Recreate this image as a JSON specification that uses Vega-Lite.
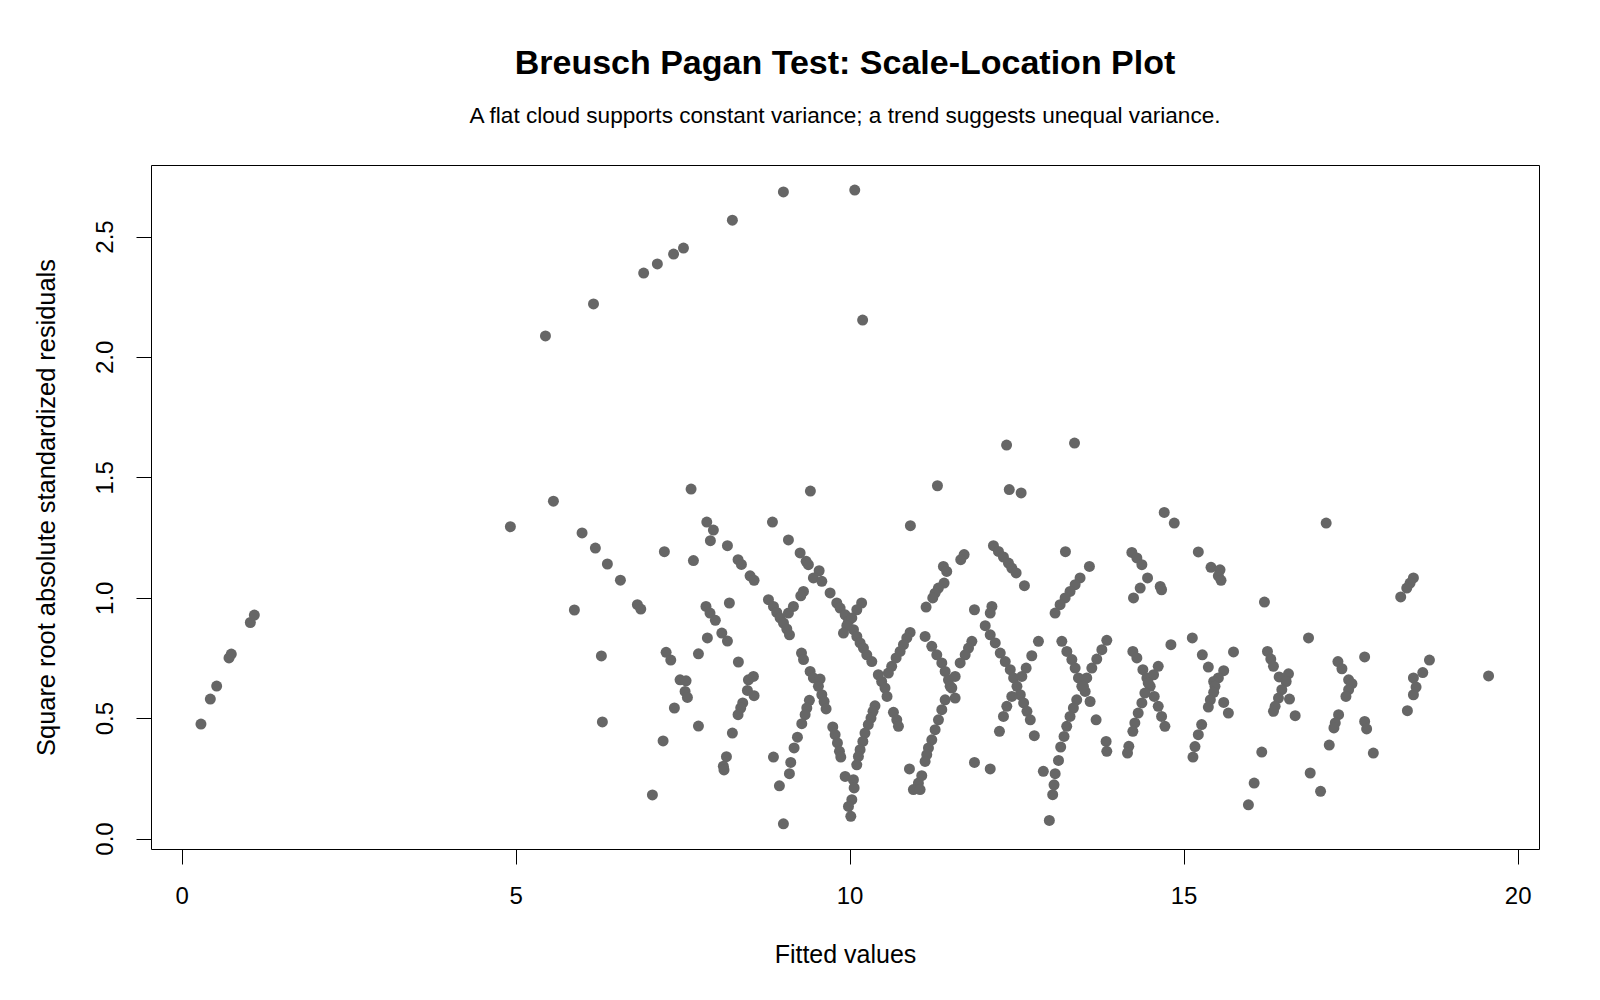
{
"$schema":"https://vega.github.io/schema/vega-lite/v6.json",
"width":1388,"height":684,
"autosize":{"type":"none"},
"padding":{"left":151,"top":165,"right":61,"bottom":151},
"background":"white",
"config":{"view":{"stroke":"black","strokeWidth":1},"font":"Liberation Sans"},
"title":{"text":"Breusch Pagan Test: Scale-Location Plot","subtitle":"A flat cloud supports constant variance; a trend suggests unequal variance.","fontSize":34,"fontWeight":"bold","subtitleFontSize":22.6,"subtitlePadding":24,"anchor":"middle","offset":37,"color":"black","subtitleColor":"black","font":"Liberation Sans","subtitleFont":"Liberation Sans"},
"data":{"values":[
{"fitted":0.29,"resid":0.475},{"fitted":0.43,"resid":0.579},{"fitted":0.525,"resid":0.633},{"fitted":0.71,"resid":0.75},{"fitted":0.744,"resid":0.766},{"fitted":1.029,"resid":0.897},{"fitted":1.089,"resid":0.928},
{"fitted":5.447,"resid":2.087},{"fitted":6.166,"resid":2.22},{"fitted":6.917,"resid":2.348},{"fitted":7.122,"resid":2.386},{"fitted":7.365,"resid":2.427},{"fitted":7.513,"resid":2.452},{"fitted":8.245,"resid":2.568},{"fitted":9.009,"resid":2.685},{"fitted":10.077,"resid":2.693},{"fitted":10.195,"resid":2.153},{"fitted":12.35,"resid":1.634},{"fitted":13.367,"resid":1.642},
{"fitted":4.922,"resid":1.295},{"fitted":5.566,"resid":1.401},{"fitted":7.627,"resid":1.451},{"fitted":5.995,"resid":1.269},{"fitted":6.194,"resid":1.206},{"fitted":6.374,"resid":1.14},{"fitted":6.569,"resid":1.073},{"fitted":6.823,"resid":0.971},{"fitted":6.874,"resid":0.953},{"fitted":5.88,"resid":0.949},{"fitted":7.227,"resid":1.191},{"fitted":7.662,"resid":1.154},{"fitted":7.862,"resid":1.314},{"fitted":7.961,"resid":1.281},{"fitted":7.916,"resid":1.237},{"fitted":8.171,"resid":1.216},{"fitted":8.33,"resid":1.158},{"fitted":8.38,"resid":1.138},{"fitted":8.51,"resid":1.091},{"fitted":8.57,"resid":1.072},{"fitted":6.284,"resid":0.758},{"fitted":8.2,"resid":0.978},{"fitted":7.85,"resid":0.964},{"fitted":7.91,"resid":0.936},{"fitted":7.99,"resid":0.906},{"fitted":7.871,"resid":0.833},{"fitted":8.087,"resid":0.853},{"fitted":8.171,"resid":0.82},{"fitted":7.253,"resid":0.773},{"fitted":7.323,"resid":0.741},{"fitted":7.737,"resid":0.767},{"fitted":8.335,"resid":0.733},{"fitted":7.462,"resid":0.659},{"fitted":7.552,"resid":0.655},{"fitted":7.537,"resid":0.611},{"fitted":7.572,"resid":0.586},{"fitted":7.377,"resid":0.542},{"fitted":8.485,"resid":0.659},{"fitted":8.56,"resid":0.673},{"fitted":8.47,"resid":0.615},{"fitted":8.57,"resid":0.593},{"fitted":8.4,"resid":0.563},{"fitted":8.37,"resid":0.542},{"fitted":8.33,"resid":0.514},{"fitted":8.245,"resid":0.438},{"fitted":7.737,"resid":0.467},{"fitted":6.299,"resid":0.484},{"fitted":7.208,"resid":0.405},{"fitted":8.156,"resid":0.34},{"fitted":8.11,"resid":0.3},{"fitted":8.12,"resid":0.285},{"fitted":7.048,"resid":0.181},
{"fitted":9.413,"resid":1.443},{"fitted":11.315,"resid":1.465},{"fitted":8.845,"resid":1.314},{"fitted":10.91,"resid":1.299},{"fitted":9.084,"resid":1.24},{"fitted":9.259,"resid":1.186},{"fitted":9.349,"resid":1.151},{"fitted":9.383,"resid":1.137},{"fitted":9.544,"resid":1.112},{"fitted":9.458,"resid":1.082},{"fitted":9.584,"resid":1.068},{"fitted":9.708,"resid":1.02},{"fitted":9.309,"resid":1.026},{"fitted":9.269,"resid":1.008},{"fitted":9.159,"resid":0.964},{"fitted":8.785,"resid":0.992},{"fitted":8.86,"resid":0.964},{"fitted":8.91,"resid":0.939},{"fitted":8.96,"resid":0.916},{"fitted":9.01,"resid":0.895},{"fitted":9.06,"resid":0.87},{"fitted":9.1,"resid":0.846},{"fitted":9.084,"resid":0.936},{"fitted":9.808,"resid":0.978},{"fitted":9.858,"resid":0.957},{"fitted":9.933,"resid":0.929},{"fitted":9.983,"resid":0.902},{"fitted":10.058,"resid":0.867},{"fitted":10.108,"resid":0.839},{"fitted":10.157,"resid":0.812},{"fitted":10.207,"resid":0.791},{"fitted":10.257,"resid":0.763},{"fitted":10.332,"resid":0.735},{"fitted":10.18,"resid":0.978},{"fitted":10.108,"resid":0.95},{"fitted":10.033,"resid":0.916},{"fitted":9.958,"resid":0.884},{"fitted":9.908,"resid":0.853},{"fitted":10.43,"resid":0.68},{"fitted":10.48,"resid":0.652},{"fitted":10.53,"resid":0.625},{"fitted":10.56,"resid":0.59},{"fitted":10.63,"resid":0.715},{"fitted":10.58,"resid":0.687},{"fitted":10.906,"resid":0.856},{"fitted":10.856,"resid":0.833},{"fitted":10.806,"resid":0.805},{"fitted":10.756,"resid":0.777},{"fitted":10.696,"resid":0.75},{"fitted":10.656,"resid":0.524},{"fitted":10.706,"resid":0.493},{"fitted":10.731,"resid":0.466},{"fitted":11.714,"resid":1.179},{"fitted":11.664,"resid":1.158},{"fitted":11.404,"resid":1.13},{"fitted":11.454,"resid":1.109},{"fitted":11.414,"resid":1.061},{"fitted":11.329,"resid":1.04},{"fitted":11.279,"resid":1.019},{"fitted":11.245,"resid":0.999},{"fitted":11.145,"resid":0.961},{"fitted":11.869,"resid":0.95},{"fitted":11.13,"resid":0.839},{"fitted":11.23,"resid":0.798},{"fitted":11.305,"resid":0.763},{"fitted":11.38,"resid":0.729},{"fitted":11.43,"resid":0.694},{"fitted":11.48,"resid":0.659},{"fitted":11.53,"resid":0.625},{"fitted":11.58,"resid":0.583},{"fitted":11.83,"resid":0.819},{"fitted":11.78,"resid":0.791},{"fitted":11.73,"resid":0.763},{"fitted":11.655,"resid":0.729},{"fitted":11.58,"resid":0.673},{"fitted":11.505,"resid":0.632},{"fitted":11.43,"resid":0.576},{"fitted":11.38,"resid":0.535},{"fitted":11.33,"resid":0.493},{"fitted":11.28,"resid":0.452},{"fitted":11.23,"resid":0.41},{"fitted":11.18,"resid":0.376},{"fitted":11.155,"resid":0.348},{"fitted":11.13,"resid":0.32},{"fitted":10.896,"resid":0.289},{"fitted":11.08,"resid":0.261},{"fitted":11.03,"resid":0.23},{"fitted":10.955,"resid":0.203},{"fitted":11.055,"resid":0.203},{"fitted":11.869,"resid":0.316},{"fitted":9.28,"resid":0.77},{"fitted":9.31,"resid":0.743},{"fitted":9.409,"resid":0.694},{"fitted":9.458,"resid":0.667},{"fitted":9.558,"resid":0.662},{"fitted":9.533,"resid":0.632},{"fitted":9.584,"resid":0.597},{"fitted":9.618,"resid":0.569},{"fitted":9.648,"resid":0.538},{"fitted":9.398,"resid":0.574},{"fitted":9.359,"resid":0.542},{"fitted":9.334,"resid":0.514},{"fitted":9.284,"resid":0.477},{"fitted":9.219,"resid":0.421},{"fitted":9.169,"resid":0.376},{"fitted":9.119,"resid":0.316},{"fitted":9.099,"resid":0.269},{"fitted":8.949,"resid":0.219},{"fitted":8.86,"resid":0.338},{"fitted":9.009,"resid":0.061},{"fitted":9.748,"resid":0.463},{"fitted":9.783,"resid":0.431},{"fitted":9.818,"resid":0.397},{"fitted":9.848,"resid":0.362},{"fitted":9.868,"resid":0.338},{"fitted":10.38,"resid":0.551},{"fitted":10.35,"resid":0.528},{"fitted":10.32,"resid":0.5},{"fitted":10.28,"resid":0.473},{"fitted":10.23,"resid":0.438},{"fitted":10.198,"resid":0.403},{"fitted":10.157,"resid":0.369},{"fitted":10.132,"resid":0.341},{"fitted":10.107,"resid":0.306},{"fitted":9.933,"resid":0.258},{"fitted":10.057,"resid":0.244},{"fitted":10.068,"resid":0.21},{"fitted":10.033,"resid":0.161},{"fitted":9.983,"resid":0.133},{"fitted":10.018,"resid":0.092},
{"fitted":12.39,"resid":1.449},{"fitted":12.568,"resid":1.435},{"fitted":14.71,"resid":1.354},{"fitted":14.86,"resid":1.31},{"fitted":12.153,"resid":1.216},{"fitted":12.228,"resid":1.192},{"fitted":12.303,"resid":1.169},{"fitted":12.378,"resid":1.144},{"fitted":12.428,"resid":1.123},{"fitted":12.493,"resid":1.103},{"fitted":12.617,"resid":1.05},{"fitted":13.231,"resid":1.191},{"fitted":13.59,"resid":1.13},{"fitted":13.45,"resid":1.082},{"fitted":13.376,"resid":1.054},{"fitted":13.3,"resid":1.026},{"fitted":13.226,"resid":0.999},{"fitted":13.151,"resid":0.971},{"fitted":13.076,"resid":0.936},{"fitted":14.225,"resid":1.188},{"fitted":14.3,"resid":1.165},{"fitted":14.375,"resid":1.137},{"fitted":14.46,"resid":1.082},{"fitted":14.35,"resid":1.04},{"fitted":14.25,"resid":0.999},{"fitted":14.65,"resid":1.047},{"fitted":14.67,"resid":1.033},{"fitted":12.13,"resid":0.964},{"fitted":12.105,"resid":0.936},{"fitted":12.03,"resid":0.884},{"fitted":12.105,"resid":0.846},{"fitted":12.18,"resid":0.812},{"fitted":12.255,"resid":0.77},{"fitted":12.33,"resid":0.735},{"fitted":12.405,"resid":0.701},{"fitted":12.455,"resid":0.667},{"fitted":12.505,"resid":0.632},{"fitted":12.555,"resid":0.597},{"fitted":12.605,"resid":0.563},{"fitted":12.655,"resid":0.528},{"fitted":12.705,"resid":0.493},{"fitted":12.765,"resid":0.427},{"fitted":12.827,"resid":0.819},{"fitted":12.727,"resid":0.759},{"fitted":12.643,"resid":0.708},{"fitted":12.578,"resid":0.673},{"fitted":12.428,"resid":0.59},{"fitted":12.353,"resid":0.549},{"fitted":12.303,"resid":0.507},{"fitted":12.243,"resid":0.445},{"fitted":12.105,"resid":0.289},{"fitted":13.177,"resid":0.819},{"fitted":13.252,"resid":0.777},{"fitted":13.327,"resid":0.743},{"fitted":13.376,"resid":0.708},{"fitted":13.426,"resid":0.667},{"fitted":13.476,"resid":0.632},{"fitted":13.526,"resid":0.611},{"fitted":13.85,"resid":0.823},{"fitted":13.776,"resid":0.784},{"fitted":13.7,"resid":0.745},{"fitted":13.626,"resid":0.708},{"fitted":13.55,"resid":0.667},{"fitted":13.5,"resid":0.632},{"fitted":13.6,"resid":0.569},{"fitted":13.69,"resid":0.493},{"fitted":13.4,"resid":0.576},{"fitted":13.35,"resid":0.542},{"fitted":13.3,"resid":0.507},{"fitted":13.25,"resid":0.466},{"fitted":13.21,"resid":0.424},{"fitted":13.16,"resid":0.38},{"fitted":13.127,"resid":0.324},{"fitted":13.077,"resid":0.269},{"fitted":13.06,"resid":0.223},{"fitted":13.04,"resid":0.182},{"fitted":12.9,"resid":0.279},{"fitted":12.99,"resid":0.075},{"fitted":13.84,"resid":0.403},{"fitted":13.85,"resid":0.362},{"fitted":14.18,"resid":0.383},{"fitted":14.16,"resid":0.355},{"fitted":14.24,"resid":0.777},{"fitted":14.3,"resid":0.75},{"fitted":14.39,"resid":0.701},{"fitted":14.45,"resid":0.667},{"fitted":14.5,"resid":0.632},{"fitted":14.56,"resid":0.59},{"fitted":14.62,"resid":0.549},{"fitted":14.67,"resid":0.507},{"fitted":14.72,"resid":0.466},{"fitted":14.81,"resid":0.805},{"fitted":14.62,"resid":0.715},{"fitted":14.55,"resid":0.68},{"fitted":14.47,"resid":0.646},{"fitted":14.42,"resid":0.604},{"fitted":14.375,"resid":0.563},{"fitted":14.32,"resid":0.521},{"fitted":14.27,"resid":0.48},{"fitted":14.24,"resid":0.445},
{"fitted":17.134,"resid":1.31},{"fitted":15.22,"resid":1.19},{"fitted":15.41,"resid":1.126},{"fitted":15.545,"resid":1.116},{"fitted":15.52,"resid":1.091},{"fitted":15.56,"resid":1.072},{"fitted":16.21,"resid":0.982},{"fitted":15.13,"resid":0.833},{"fitted":16.87,"resid":0.833},{"fitted":15.28,"resid":0.763},{"fitted":15.37,"resid":0.712},{"fitted":15.747,"resid":0.775},{"fitted":15.6,"resid":0.697},{"fitted":15.52,"resid":0.667},{"fitted":15.45,"resid":0.652},{"fitted":15.47,"resid":0.632},{"fitted":15.45,"resid":0.607},{"fitted":15.4,"resid":0.576},{"fitted":15.37,"resid":0.546},{"fitted":15.6,"resid":0.565},{"fitted":15.67,"resid":0.521},{"fitted":15.27,"resid":0.473},{"fitted":15.22,"resid":0.431},{"fitted":15.17,"resid":0.382},{"fitted":15.14,"resid":0.338},{"fitted":16.17,"resid":0.359},{"fitted":16.056,"resid":0.23},{"fitted":15.97,"resid":0.14},{"fitted":16.255,"resid":0.777},{"fitted":16.305,"resid":0.745},{"fitted":16.345,"resid":0.715},{"fitted":16.43,"resid":0.671},{"fitted":16.57,"resid":0.684},{"fitted":16.535,"resid":0.652},{"fitted":16.47,"resid":0.618},{"fitted":16.42,"resid":0.583},{"fitted":16.37,"resid":0.549},{"fitted":16.345,"resid":0.528},{"fitted":16.585,"resid":0.579},{"fitted":16.67,"resid":0.51},{"fitted":17.31,"resid":0.735},{"fitted":17.37,"resid":0.705},{"fitted":17.71,"resid":0.754},{"fitted":17.47,"resid":0.659},{"fitted":17.52,"resid":0.643},{"fitted":17.47,"resid":0.618},{"fitted":17.43,"resid":0.59},{"fitted":17.32,"resid":0.514},{"fitted":17.27,"resid":0.48},{"fitted":17.25,"resid":0.459},{"fitted":17.18,"resid":0.388},{"fitted":17.71,"resid":0.486},{"fitted":17.74,"resid":0.455},{"fitted":17.84,"resid":0.355},{"fitted":16.895,"resid":0.272},{"fitted":17.05,"resid":0.196},
{"fitted":18.44,"resid":1.082},{"fitted":18.39,"resid":1.061},{"fitted":18.34,"resid":1.04},{"fitted":18.25,"resid":1.003},{"fitted":18.68,"resid":0.741},{"fitted":18.58,"resid":0.689},{"fitted":18.44,"resid":0.667},{"fitted":18.48,"resid":0.629},{"fitted":18.44,"resid":0.597},{"fitted":18.35,"resid":0.531},{"fitted":19.565,"resid":0.675}
]},
"mark":{"type":"point","filled":true,"shape":"circle","size":121,"color":"#666666","opacity":1,"strokeWidth":0},
"encoding":{
"x":{"field":"fitted","type":"quantitative","scale":{"domain":[-0.458,20.32],"nice":false,"zero":false},
 "axis":{"title":"Fitted values","values":[0,5,10,15,20],"format":"d","grid":false,"domain":false,"tickColor":"black","tickSize":15,"tickWidth":1,"labelFontSize":24,"labelColor":"black","labelPadding":20,"labelFont":"Liberation Sans","titleFont":"Liberation Sans","titleFontSize":25,"titleFontWeight":"normal","titleColor":"black","titlePadding":34}},
"y":{"field":"resid","type":"quantitative","scale":{"domain":[-0.0436,2.797],"nice":false,"zero":false},
 "axis":{"title":"Square root absolute standardized residuals","values":[0,0.5,1,1.5,2,2.5],"format":".1f","grid":false,"domain":false,"tickColor":"black","tickSize":15,"tickWidth":1,"labelFontSize":24,"labelColor":"black","labelAngle":270,"labelAlign":"center","labelBaseline":"alphabetic","labelPadding":24,"labelFont":"Liberation Sans","titleFont":"Liberation Sans","titleFontSize":25.4,"titleFontWeight":"normal","titleColor":"black","titlePadding":34}}
}
}
